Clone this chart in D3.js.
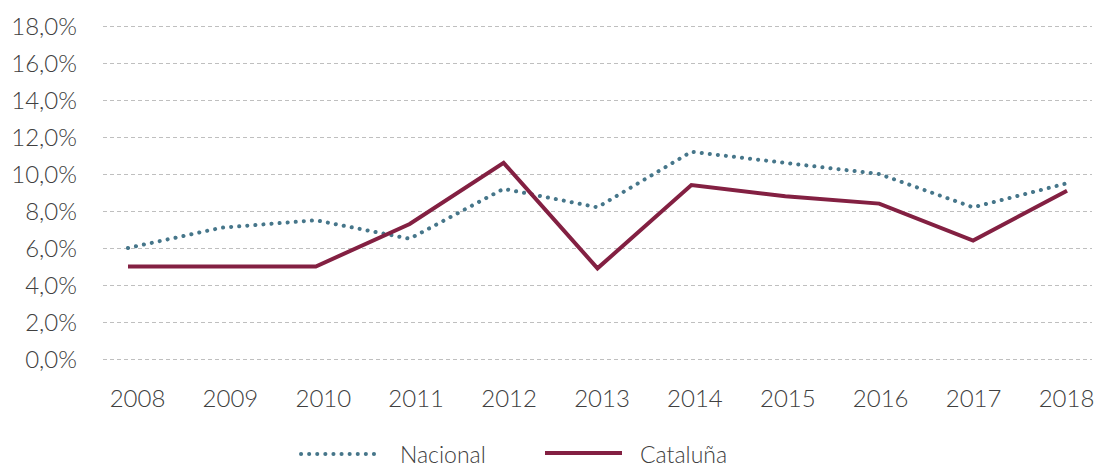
<!DOCTYPE html>
<html>
<head>
<meta charset="utf-8">
<script src="https://cdn.jsdelivr.net/npm/d3@7"></script>
<style>
  body { margin: 0; background: #fff; }
  text { font-family: Lato, "Open Sans", sans-serif; font-weight: 300; fill: #404040; }
</style>
</head>
<body>
<svg id="chart" width="1097" height="467"></svg>
<script>
// data
var years = ['2008','2009','2010','2011','2012','2013','2014','2015','2016','2017','2018'];
var nacional = [6.0, 7.1, 7.5, 6.5, 9.2, 8.2, 11.2, 10.6, 10.0, 8.2, 9.5];
var cataluna = [5.0, 5.0, 5.0, 7.3, 10.6, 4.9, 9.4, 8.8, 8.4, 6.4, 9.1];
var yTicks = [0, 2, 4, 6, 8, 10, 12, 14, 16, 18];
var seriesNames = ['Nacional', 'Cataluña'];

var svg = d3.select('#chart');

var x = d3.scalePoint().domain(years).range([128, 1067]);
var xLabels = d3.scalePoint().domain(years).range([137, 1066]);
var y = d3.scaleLinear().domain([0, 18]).range([359, 26]);

var fmt = function (d) { return d.toFixed(1).replace('.', ',') + '%'; };

// grid
svg.append('g').selectAll('line').data(yTicks).enter().append('line')
    .attr('x1', 103).attr('x2', 1092)
    .attr('y1', function (d) { return y(d) + 0.5; })
    .attr('y2', function (d) { return y(d) + 0.5; })
    .attr('stroke', '#bfbfbf')
    .attr('stroke-width', 1)
    .attr('stroke-dasharray', '4 3');

// y axis
var yAxis = d3.axisLeft(y).tickValues(yTicks).tickFormat(fmt).tickSize(0).tickPadding(0);
var gy = svg.append('g').attr('transform', 'translate(77,0)').call(yAxis);
gy.select('.domain').remove();
gy.selectAll('text').style('font-size', '24px').attr('fill', '#404040').attr('dy', '0.35em')
    .style('font-family', 'Lato, sans-serif');

// x axis
var xAxis = d3.axisBottom(xLabels).tickSize(0).tickPadding(0);
var gx = svg.append('g').attr('transform', 'translate(0,407)').call(xAxis);
gx.select('.domain').remove();
gx.selectAll('text').style('font-size', '24px').attr('fill', '#404040').attr('y', 0).attr('dy', 0)
    .style('font-family', 'Lato, sans-serif');

var line = d3.line()
    .x(function (d, i) { return x(years[i]); })
    .y(function (d) { return y(d); });

var blue = '#46768a';
var red = '#832042';

svg.append('path').datum(nacional)
    .attr('d', line)
    .attr('fill', 'none')
    .attr('stroke', blue)
    .attr('stroke-width', 4)
    .attr('stroke-linecap', 'round')
    .attr('stroke-dasharray', '0.1 8');

svg.append('path').datum(cataluna)
    .attr('d', line)
    .attr('fill', 'none')
    .attr('stroke', red)
    .attr('stroke-width', 4)
    .attr('stroke-linejoin', 'miter');

// legend
var legend = svg.append('g');
legend.append('line')
    .attr('x1', 301).attr('x2', 382).attr('y1', 454).attr('y2', 454)
    .attr('stroke', blue).attr('stroke-width', 4)
    .attr('stroke-linecap', 'round').attr('stroke-dasharray', '0.1 8');
legend.append('text').attr('x', 400).attr('y', 463).style('font-size', '23px').text(seriesNames[0]);
legend.append('line')
    .attr('x1', 545).attr('x2', 622).attr('y1', 453).attr('y2', 453)
    .attr('stroke', red).attr('stroke-width', 4);
legend.append('text').attr('x', 640).attr('y', 463).style('font-size', '23px').text(seriesNames[1]);
</script>
</body>
</html>
